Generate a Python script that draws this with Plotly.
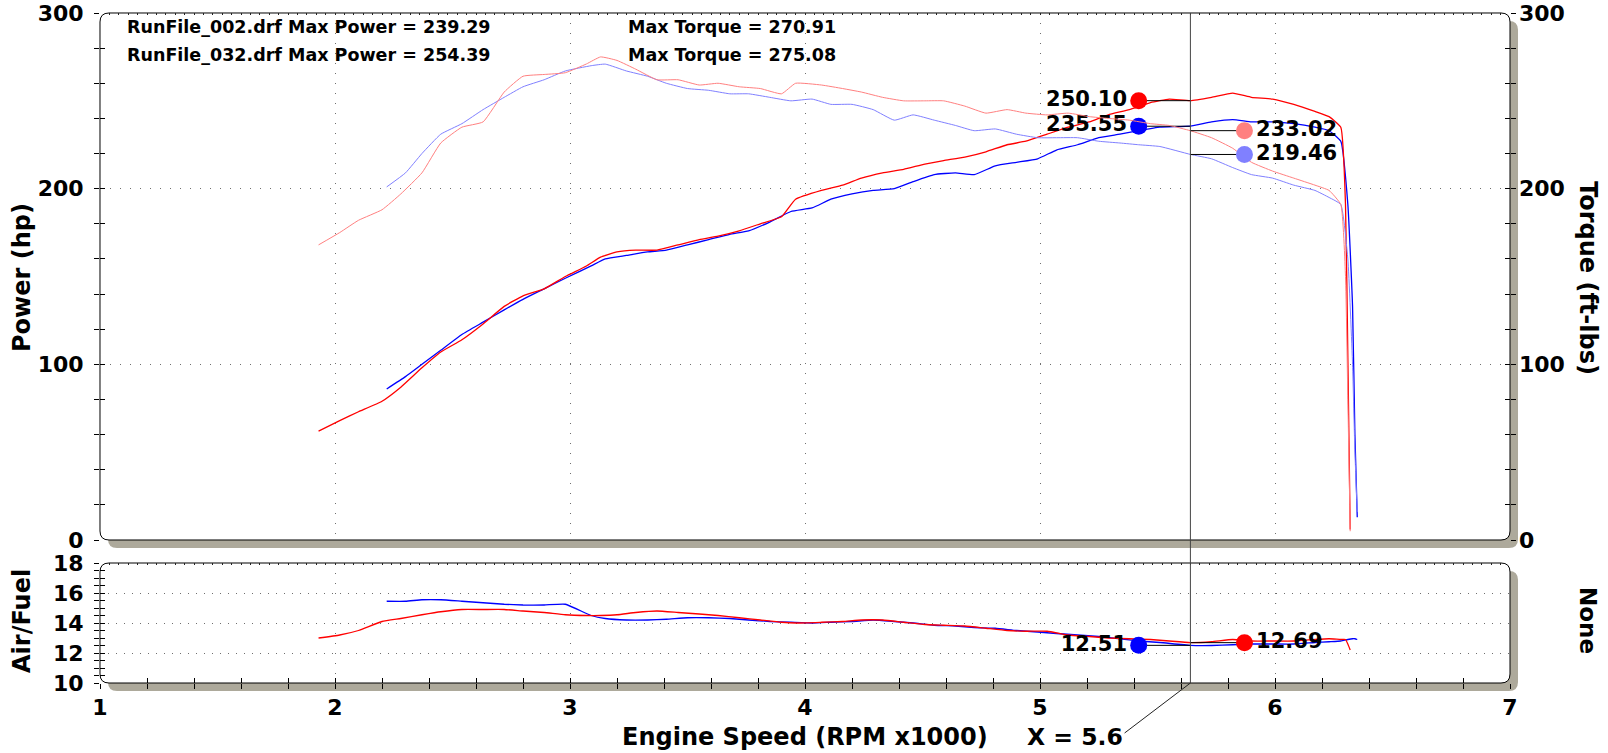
import plotly.graph_objects as go

# ---------------- data ----------------
files = ["RunFile_002.drf", "RunFile_032.drf"]
max_power = [239.29, 254.39]
max_torque = [270.91, 275.08]

# run 032 (red)
rpm_032 = [1.93, 2.02, 2.10, 2.20, 2.28, 2.37, 2.45, 2.54, 2.63, 2.72, 2.80, 2.89, 2.98, 3.07, 3.13,
           3.20, 3.28, 3.37, 3.46, 3.55, 3.63, 3.72, 3.81, 3.90, 3.96, 4.07, 4.16, 4.24, 4.33, 4.42,
           4.51, 4.59, 4.68, 4.77, 4.86, 4.94, 5.03, 5.12, 5.21, 5.29, 5.38, 5.47, 5.55, 5.64, 5.73,
           5.82, 5.90, 5.99, 6.08, 6.17, 6.23, 6.28, 6.30, 6.31, 6.32]
power_032 = [62, 68, 73, 79, 87, 98, 107, 114, 123, 133, 139, 143, 150, 156, 161,
             164, 165, 165, 168, 171, 173, 176, 180, 184, 194, 199, 202, 206, 209, 211,
             214, 216, 218, 221, 225, 227, 231, 235, 238, 242, 245, 249, 251, 250.1, 252,
             254.4, 252, 251, 248, 244, 241, 235, 191, 104, 6]
torque_032 = [168, 175, 182, 188, 197, 209, 226, 235, 238, 255, 264, 265, 266, 271, 275,
              273, 268, 262, 262, 259, 260, 258, 257, 254, 260, 259, 257, 255, 252, 250,
              250, 250, 247, 243, 245, 243, 242, 243, 241, 240, 239, 237, 236, 233, 229,
              223, 215, 210, 206, 202, 199, 191, 150, 80, 5]
afr_032 = [13.0, 13.2, 13.5, 14.1, 14.3, 14.55, 14.75, 14.9, 14.9, 14.9, 14.8, 14.7, 14.55, 14.5, 14.5,
           14.55, 14.7, 14.8, 14.7, 14.6, 14.5, 14.35, 14.2, 14.05, 14.0, 14.05, 14.1, 14.2, 14.2, 14.05,
           13.9, 13.85, 13.8, 13.65, 13.5, 13.45, 13.45, 13.2, 13.1, 13.0, 12.95, 12.9, 12.8, 12.69, 12.75,
           12.9, 12.8, 12.8, 12.8, 12.9, 12.95, 12.9, 12.9, 12.6, 12.2]

# run 002 (blue)
rpm_002 = [2.22, 2.30, 2.37, 2.45, 2.54, 2.63, 2.72, 2.80, 2.89, 2.98, 3.09, 3.15, 3.24, 3.33, 3.41,
           3.50, 3.59, 3.68, 3.76, 3.85, 3.94, 4.03, 4.11, 4.20, 4.29, 4.38, 4.46, 4.55, 4.64, 4.72,
           4.81, 4.90, 4.99, 5.07, 5.16, 5.25, 5.34, 5.42, 5.51, 5.64, 5.73, 5.82, 5.90, 5.99, 6.08,
           6.17, 6.23, 6.28, 6.31, 6.33, 6.34, 6.35]
power_002 = [86, 93, 100, 108, 117, 124, 131, 137, 143, 149, 156, 160, 162, 164, 165,
             168, 171, 174, 176, 181, 187, 189, 194, 197, 199, 200, 204, 208, 209, 208,
             213, 215, 217, 222, 225, 229, 231, 233, 235, 235.6, 238, 239.3, 238, 238, 237,
             235, 233, 227, 191, 133, 60, 13]
torque_002 = [201, 209, 220, 231, 237, 245, 252, 258, 262, 267, 270, 270.9, 267, 264, 260,
              257, 256, 254, 254, 252, 250, 251, 248, 248, 245, 239, 242, 239, 236, 233,
              234, 231, 229, 229, 229, 227, 226, 225, 224, 219.5, 217, 212, 208, 206, 202,
              199, 195, 191, 160, 100, 50, 16]
afr_002 = [15.45, 15.45, 15.55, 15.55, 15.45, 15.35, 15.25, 15.2, 15.2, 15.25, 14.5, 14.3, 14.2, 14.2, 14.25,
           14.35, 14.35, 14.3, 14.2, 14.1, 14.05, 14.0, 14.05, 14.1, 14.2, 14.1, 14.0, 13.85, 13.8, 13.7,
           13.65, 13.5, 13.4, 13.3, 13.2, 13.1, 12.95, 12.8, 12.7, 12.51, 12.5, 12.55, 12.6, 12.6, 12.6,
           12.7, 12.75, 12.8, 12.9, 12.95, 12.95, 12.9]

# cursor readout  [run 032, run 002]
cursor_rpm = 5.64
cursor_power = [250.10, 235.55]
cursor_torque = [233.02, 219.46]
cursor_afr = [12.69, 12.51]

# ---------------- geometry / style ----------------
W, H = 1608, 753
def PX(x): return x / W
def PY(y): return 1 - y / H

XL, XR = 100, 1510
T1, B1 = 13, 540
T2, B2 = 563, 683
SH = 8
RAD = 9
DOT_L = -0.22
DOT_R = 0.23
LEAD = 0.28

FONT = "DejaVu Sans"
tfont = dict(family=FONT, size=22, color="black", weight="bold")
rfont = dict(family=FONT, size=21, color="black", weight="bold")
GRID = dict(showgrid=True, gridcolor="#6f6f6f", gridwidth=1, griddash="1px,9px")

RED, BLUE, PINK, LBLUE = "#ff0000", "#0000ff", "#ff8080", "#8080ff"

fig = go.Figure()

def line(x, y, color, width, xa="x", ya="y"):
    fig.add_trace(go.Scatter(x=x, y=y, mode="lines", xaxis=xa, yaxis=ya,
                             line=dict(color=color, width=width, shape="spline", smoothing=0.4),
                             showlegend=False, hoverinfo="skip"))

# torque (light) then power
line(rpm_002, torque_002, LBLUE, 1, ya="y2")
line(rpm_032, torque_032, PINK, 1, ya="y2")
line(rpm_002, power_002, BLUE, 1.3)
line(rpm_032, power_032, RED, 1.3)
# AFR
line(rpm_002, afr_002, BLUE, 1.3, xa="x2", ya="y3")
line(rpm_032, afr_032, RED, 1.3, xa="x2", ya="y3")

def readout(val, color, side, xa, ya):
    xd = cursor_rpm + (DOT_L if side == "left" else DOT_R)
    fig.add_trace(go.Scatter(x=[xd, cursor_rpm], y=[val, val], mode="lines", xaxis=xa, yaxis=ya,
                             line=dict(color="black", width=1), showlegend=False, hoverinfo="skip"))
    fig.add_trace(go.Scatter(x=[xd], y=[val], mode="markers+text", xaxis=xa, yaxis=ya,
                             marker=dict(color=color, size=17),
                             text=[f"{val:.2f}"],
                             textposition="middle left" if side == "left" else "middle right",
                             textfont=rfont, showlegend=False, hoverinfo="skip"))

readout(cursor_power[0], RED, "left", "x", "y")
readout(cursor_power[1], BLUE, "left", "x", "y")
readout(cursor_torque[0], PINK, "right", "x", "y2")
readout(cursor_torque[1], LBLUE, "right", "x", "y2")
readout(cursor_afr[1], BLUE, "left", "x2", "y3")
readout(cursor_afr[0], RED, "right", "x2", "y3")

# dummy traces so overlay axes exist
for xa, ya in [("x", "y4"), ("x3", "y3"), ("x4", "y3"), ("x2", "y5")]:
    fig.add_trace(go.Scatter(x=[None], y=[None], xaxis=xa, yaxis=ya, showlegend=False, hoverinfo="skip"))

# ---------------- frames ----------------
def rrect(x0, y0, x1, y1, r):
    def p(x, y): return f"{PX(x):.6f},{PY(y):.6f}"
    return (f"M {p(x0 + r, y0)} L {p(x1 - r, y0)} Q {p(x1, y0)} {p(x1, y0 + r)} "
            f"L {p(x1, y1 - r)} Q {p(x1, y1)} {p(x1 - r, y1)} L {p(x0 + r, y1)} "
            f"Q {p(x0, y1)} {p(x0, y1 - r)} L {p(x0, y0 + r)} Q {p(x0, y0)} {p(x0 + r, y0)} Z")

shapes = []
for (t, b) in [(T1, B1), (T2, B2)]:
    shapes.append(dict(type="path", xref="paper", yref="paper", layer="below",
                       path=rrect(XL + SH, t + SH, XR + SH, b + SH, RAD),
                       fillcolor="#ada99b", line=dict(width=0)))
    shapes.append(dict(type="path", xref="paper", yref="paper", layer="below",
                       path=rrect(XL, t, XR, b, RAD),
                       fillcolor="white", line=dict(color="black", width=1)))
# cursor
shapes.append(dict(type="line", xref="x", yref="paper", x0=cursor_rpm, x1=cursor_rpm,
                   y0=PY(B2), y1=PY(T1), line=dict(color="#444444", width=1)))
shapes.append(dict(type="line", xref="x", yref="paper", x0=cursor_rpm, x1=cursor_rpm - LEAD,
                   y0=PY(B2), y1=PY(733), line=dict(color="#222222", width=1)))

# ---------------- annotations ----------------
ann = []
def txt(x, y, s, xanchor="left", angle=0, size=20, xref="paper"):
    ann.append(dict(x=x, y=PY(y), xref=xref, yref="paper", text=s, showarrow=False,
                    xanchor=xanchor, yanchor="middle", textangle=angle,
                    font=dict(family=FONT, size=size, color="black", weight="bold")))

for i, (f, p, q) in enumerate(zip(files, max_power, max_torque)):
    yy = 27 + i * 28
    txt(PX(125), yy, f"{f} Max Power = {p:.2f}", size=17.5)
    txt(PX(626), yy, f"Max Torque = {q:.2f}", size=17.5)

txt(PX(22), 278, "Power (hp)", "center", -90, 24)
txt(PX(22), 621, "Air/Fuel", "center", -90, 24)
txt(PX(1588), 278, "Torque (ft-lbs)", "center", 90, 24)
txt(PX(1588), 620, "None", "center", 90, 23)
txt(PX(805), 737, "Engine Speed (RPM x1000)", "center", 0, 24)
txt(cursor_rpm - LEAD, 737, f"X = {cursor_rpm:.1f}", "right", 0, 23.5, xref="x")

# ---------------- axes ----------------
cx = dict(range=[1, 7], domain=[PX(XL), PX(XR)], zeroline=False, showline=False, fixedrange=True,
          automargin=False)
ydom1 = [PY(B1), PY(T1)]
ydom2 = [PY(B2), PY(T2)]
cy = dict(zeroline=False, showline=False, fixedrange=True, automargin=False)

fig.update_layout(
    width=W, height=H, margin=dict(l=0, r=0, t=0, b=0, pad=0, autoexpand=False),
    paper_bgcolor="white", plot_bgcolor="rgba(0,0,0,0)",
    showlegend=False, shapes=shapes, annotations=ann,
    xaxis=dict(**cx, anchor="y", side="top", showticklabels=False, ticks="inside", ticklen=2,
               tickcolor="#222", dtick=1, tick0=1, **GRID,
               minor=dict(dtick=0.04, tick0=1, ticks="inside", ticklen=2, tickcolor="#222", showgrid=False)),
    xaxis2=dict(**cx, anchor="y3", side="bottom", ticks="outside", ticklen=5, tickcolor="black",
                dtick=1, tick0=1, tickfont=tfont, ticklabelstandoff=0, **GRID,
                minor=dict(dtick=0.2, tick0=1, ticks="outside", ticklen=5, tickcolor="black", showgrid=False)),
    xaxis3=dict(**cx, anchor="y3", overlaying="x2", side="bottom", ticks="inside", ticklen=5,
                tickcolor="black", dtick=0.2, tick0=1, showticklabels=False, showgrid=False),
    xaxis4=dict(**cx, anchor="y3", overlaying="x2", side="top", ticks="inside", ticklen=2,
                tickcolor="#222", dtick=0.04, tick0=1, showticklabels=False, showgrid=False),
    yaxis=dict(**cy, domain=ydom1, range=[0, 300], anchor="x", side="left", dtick=100, ticks="outside",
               ticklen=5, tickcolor="black", mirror="ticks", tickfont=tfont, ticklabelstandoff=6,
               **GRID,
               minor=dict(dtick=20, ticks="outside", ticklen=5, tickcolor="black", showgrid=False)),
    yaxis4=dict(**cy, domain=ydom1, range=[0, 300], anchor="x", overlaying="y", side="left", ticks="inside",
                ticklen=5, tickcolor="black", dtick=20, mirror="ticks", showticklabels=False,
                showgrid=False),
    yaxis2=dict(**cy, domain=ydom1, range=[0, 300], anchor="x", overlaying="y", side="right", dtick=100,
                ticks="", tickfont=tfont, ticklabelstandoff=8, showgrid=False),
    yaxis3=dict(**cy, domain=ydom2, range=[10, 18], anchor="x2", side="left", dtick=2, ticks="outside",
                ticklen=5, tickcolor="black", tickfont=tfont, ticklabelstandoff=6,
                showgrid=True, gridcolor="#6f6f6f", gridwidth=1, griddash="1px,7px",
                minor=dict(dtick=0.5, ticks="outside", ticklen=5, tickcolor="black", showgrid=False)),
    yaxis5=dict(**cy, domain=ydom2, range=[10, 18], anchor="x2", overlaying="y3", side="left", ticks="inside",
                ticklen=5, tickcolor="black", dtick=0.5, showticklabels=False, showgrid=False),
)

fig.write_html("out.html", config={"displayModeBar": False},
               post_script="document.body.style.margin='0';")
